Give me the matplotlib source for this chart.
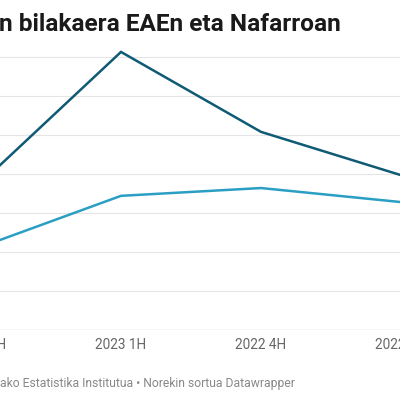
import matplotlib
matplotlib.use("Agg")
import matplotlib.pyplot as plt

# Cropped Datawrapper line chart: two series over quarterly categories
categories = ["2023 2H", "2023 1H", "2022 4H", "2022 3H"]
eae = [3.77, 7.13, 5.08, 3.97]
nafarroa = [2.13, 3.44, 3.64, 3.28]

title = "n bilakaera EAEn eta Nafarroan"
footer = "ako Estatistika Institutua \u2022 Norekin sortua Datawrapper"

plt.rcParams["font.family"] = ["Roboto", "DejaVu Sans"]

fig = plt.figure(figsize=(4, 4), dpi=100, facecolor="white")

# axes deliberately run past the figure edges (the reference is a crop)
ax = fig.add_axes([-60 / 400, 70 / 400, 480 / 400, 285 / 400])
x = list(range(len(categories)))
ax.set_xlim(-0.2929, 3.1357)
ax.set_ylim(0, 7.3077)

for k in range(1, 8):
    ax.axhline(k, color="#e5e5e5", linewidth=0.8, zorder=1)
ax.axhline(0, color="#d0d0d0", linewidth=1.0, zorder=1)

ax.plot(x, eae, color="#0f5a74", linewidth=1.8, zorder=3,
        solid_joinstyle="miter", clip_on=False)
ax.plot(x, nafarroa, color="#2a9fc3", linewidth=1.8, zorder=3,
        solid_joinstyle="miter", clip_on=False)

ax.set_xticks(x)
ax.set_xticklabels(categories, fontsize=9.8, color="#666666")
ax.tick_params(axis="x", length=0, pad=5.5)
ax.set_yticks([])
for s in ax.spines.values():
    s.set_visible(False)

fig.text(-0.002, (400 - 31) / 400, title, fontsize=17.6, fontweight="bold",
         color="#1a1a1a", va="baseline", ha="left")
fig.text(0.0, (400 - 387) / 400, footer, fontsize=8.7, color="#888888",
         va="baseline", ha="left")

fig.savefig("out.png", dpi=100, facecolor="white")
